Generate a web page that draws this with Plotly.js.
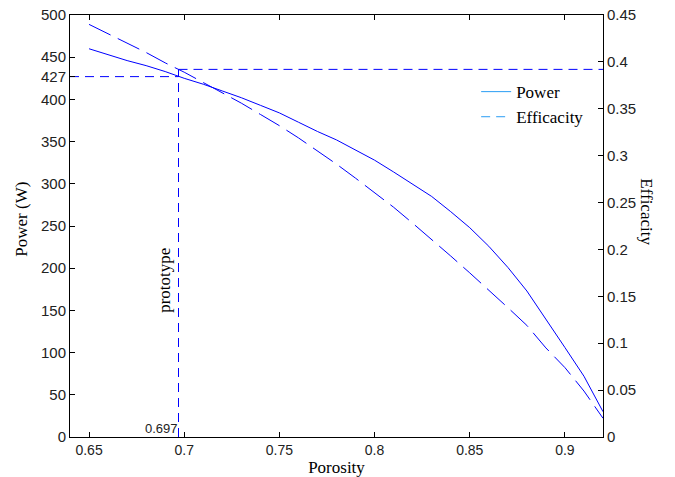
<!DOCTYPE html>
<html>
<head>
<meta charset="utf-8">
<script src="https://cdn.plot.ly/plotly-3.0.1.min.js"></script>
<style>html,body{margin:0;padding:0;background:#fff;}#chart{width:675px;height:477px;}</style>
</head>
<body>
<div id="chart"></div>
<script>
const porosity = [0.65,0.66,0.67,0.68,0.69,0.70,0.71,0.72,0.73,0.74,0.75,0.76,0.77,0.78,0.79,0.80,0.81,0.82,0.83,0.84,0.85,0.86,0.87,0.88,0.89,0.90,0.91,0.92];
const power = [460,453,446,440,433,425,418,410,402,393,384,373,362,352,340,328,314,300,285,267,248,226,201,173,140,106,72,30];
const efficacity = [0.440,0.430,0.420,0.410,0.399,0.389,0.378,0.367,0.356,0.344,0.332,0.319,0.305,0.291,0.276,0.261,0.245,0.228,0.211,0.193,0.175,0.157,0.138,0.119,0.095,0.074,0.049,0.020];
const prototypePorosity = 0.697;
const prototypePower = 427;
const prototypeEfficacity = 0.392;
const xRange = [0.64, 0.92];
const powerRange = [0, 500];
const effRange = [0, 0.45];
const xTicks = [0.65,0.7,0.75,0.8,0.85,0.9];
const xTickText = ['0.65','0.7','0.75','0.8','0.85','0.9'];
const powerTicks = [0,50,100,150,200,250,300,350,400,450,500,427];
const powerTickText = ['0','50','100','150','200','250','300','350','400','450','500','427'];
const effTicks = [0,0.05,0.1,0.15,0.2,0.25,0.3,0.35,0.4,0.45];
const effTickText = ['0','0.05','0.1','0.15','0.2','0.25','0.3','0.35','0.4','0.45'];

const blue = '#0000ff';
const legBlue = '#2a9df4';
const sans = 'Liberation Sans, Arial, sans-serif';
const serif = 'Liberation Serif, Times New Roman, serif';

const traces = [
  {x: porosity, y: power, mode:'lines', line:{color:blue, width:1}, showlegend:false, yaxis:'y', hoverinfo:'skip'},
  {x: porosity, y: efficacity, mode:'lines', line:{color:blue, width:1, dash:'24px,8px'}, showlegend:false, yaxis:'y2', hoverinfo:'skip'},
  {x:[xRange[0], prototypePorosity], y:[prototypePower, prototypePower], mode:'lines', line:{color:blue,width:1,dash:'9px,6px'}, showlegend:false, yaxis:'y'},
  {x:[prototypePorosity, prototypePorosity], y:[0, prototypeEfficacity], mode:'lines', line:{color:blue,width:1,dash:'9px,6px'}, showlegend:false, yaxis:'y2'},
  {x:[prototypePorosity, xRange[1]], y:[prototypeEfficacity, prototypeEfficacity], mode:'lines', line:{color:blue,width:1,dash:'9px,6px'}, showlegend:false, yaxis:'y2'},
  {x:[null], y:[null], mode:'lines', name:'Power', line:{color:legBlue,width:1}, yaxis:'y'},
  {x:[null], y:[null], mode:'lines', name:'Efficacity', line:{color:legBlue,width:1,dash:'9px,6px'}, yaxis:'y'}
];

const layout = {
  width:675, height:477,
  margin:{l:70, r:72, t:15, b:40, pad:0},
  paper_bgcolor:'#fff', plot_bgcolor:'#fff',
  showlegend:true,
  legend:{x:0.762, y:0.86, xanchor:'left', yanchor:'top', bgcolor:'rgba(0,0,0,0)', font:{family:serif, size:17, color:'#000'}, tracegroupgap:0},
  xaxis:{range:xRange, tickvals:xTicks, ticktext:xTickText,
    ticks:'inside', ticklen:5, tickcolor:'#000', showline:true, linecolor:'#000', linewidth:1, mirror:'ticks',
    showgrid:false, zeroline:false, tickfont:{family:sans, size:14, color:'#222'},
    title:{text:'Porosity', font:{family:serif, size:17, color:'#000'}, standoff:0}},
  yaxis:{range:powerRange, tickvals:powerTicks, ticktext:powerTickText, ticks:'inside', ticklen:5, tickcolor:'#000',
    showline:true, linecolor:'#000', linewidth:1, showgrid:false, zeroline:false,
    tickfont:{family:sans, size:15, color:'#222'}},
  yaxis2:{range:effRange, overlaying:'y', side:'right', tickvals:effTicks, ticktext:effTickText, ticks:'inside', ticklen:5, tickcolor:'#000',
    showline:true, linecolor:'#000', linewidth:1, showgrid:false, zeroline:false,
    tickfont:{family:sans, size:15, color:'#222'}},
  annotations:[
    {x:0, y:0.515, xref:'paper', yref:'paper', text:'Power (W)', showarrow:false, textangle:-90, xanchor:'center', yanchor:'middle', xshift:-48, font:{family:serif, size:17, color:'#000'}},
    {x:1, y:0.535, xref:'paper', yref:'paper', text:'Efficacity', showarrow:false, textangle:90, xanchor:'center', yanchor:'middle', xshift:44, font:{family:serif, size:17, color:'#000'}},
    {x:prototypePorosity, y:0, xref:'x', yref:'y', text:'0.697', showarrow:false, xanchor:'right', yanchor:'bottom', xshift:1, yshift:-1, font:{family:sans, size:13, color:'#222'}},
    {x:prototypePorosity, y:185, xref:'x', yref:'y', text:'prototype', showarrow:false, textangle:-90, xanchor:'right', xshift:-2, font:{family:serif, size:17, color:'#000'}}
  ]
};

Plotly.newPlot('chart', traces, layout, {staticPlot:true, displayModeBar:false});
</script>
</body>
</html>
